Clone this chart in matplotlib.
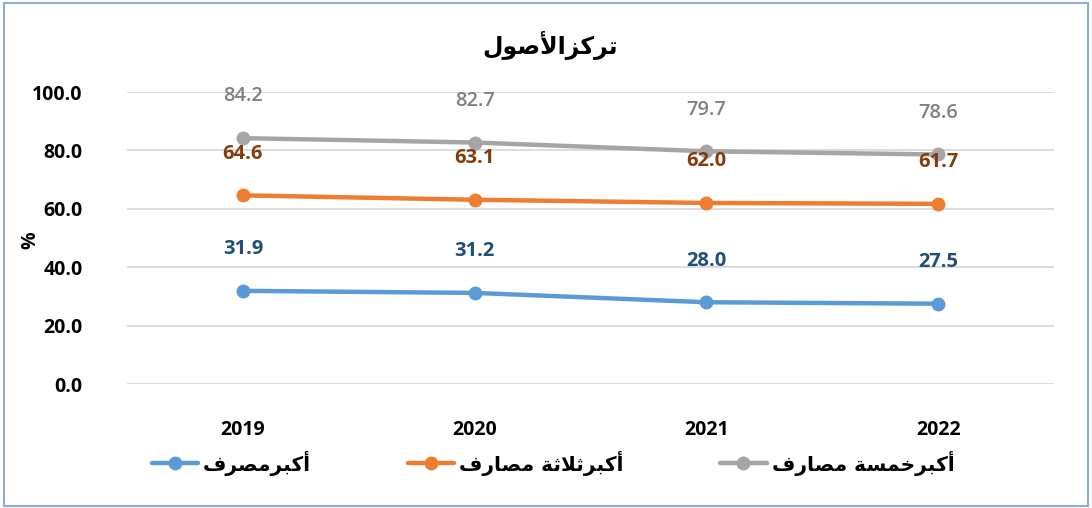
import matplotlib
matplotlib.use("Agg")
import matplotlib.pyplot as plt
from matplotlib.patches import Rectangle

plt.rcParams['font.family'] = ['Open Sans', 'DejaVu Sans']

years = ["2019", "2020", "2021", "2022"]
top1 = [31.9, 31.2, 28.0, 27.5]
top3 = [64.6, 63.1, 62.0, 61.7]
top5 = [84.2, 82.7, 79.7, 78.6]
yticks = [0, 20, 40, 60, 80, 100]

# Arabic text pre-shaped (presentation forms, visual order)
title = "\uFEDD\uFEEE\uFEBB\uFEF7\uFE8D\uFEB0\uFEDB\uFEAE\uFE97"
lab1 = "\uFED1\uFEAE\uFEBC\uFEE3\uFEAE\uFE92\uFEDB\uFE83"
lab3 = "\uFED1\uFEAD\uFE8E\uFEBC\uFEE3 \uFE94\uFE9B\uFEFC\uFE9B\uFEAE\uFE92\uFEDB\uFE83"
lab5 = "\uFED1\uFEAD\uFE8E\uFEBC\uFEE3 \uFE94\uFEB4\uFEE4\uFEA7\uFEAE\uFE92\uFEDB\uFE83"

fig = plt.figure(figsize=(10.92, 5.08), dpi=100)
ax = fig.add_axes([127/1092, 1 - 384/508, (1054-127)/1092, (384-92)/508])

x = list(range(len(years)))
series = [
    (top5, "#A5A5A5", "#808080", "semibold", lab5),
    (top3, "#ED7D31", "#843C0C", "bold", lab3),
    (top1, "#5B9BD5", "#1F4E79", "bold", lab1),
]
handles = {}
for vals, col, tcol, w, lab in series:
    h, = ax.plot(x, vals, color=col, lw=3.2, marker='o', ms=9, label=lab,
                 solid_capstyle='round', zorder=3)
    handles[lab] = h
    for xi, v in zip(x, vals):
        ax.annotate(f"{v:.1f}", (xi, v), xytext=(0, 30), textcoords='offset points',
                    ha='center', va='center', color=tcol, fontsize=14.5, fontweight=w)

ax.set_xlim(-0.5, len(years) - 0.5)
ax.set_ylim(0, 100)
ax.set_yticks(yticks)
ax.set_yticklabels([f"{t:.1f}" for t in yticks], fontsize=14, fontweight='bold')
ax.set_xticks(x)
ax.set_xticklabels(years, fontsize=14, fontweight='bold')
ax.tick_params(axis='both', length=0)
ax.tick_params(axis='y', pad=32)
ax.tick_params(axis='x', pad=26)
ax.grid(axis='y', color='#D9D9D9', lw=1.3)
ax.set_axisbelow(True)
for s in ax.spines.values():
    s.set_visible(False)

fig.text(30/1092, 1 - 240/508, "%", rotation=90, ha='center', va='center',
         fontsize=14, fontweight='bold')
fig.text(550/1092, 1 - 45/508, title, ha='center', va='center',
         fontsize=17, fontweight='bold', family=['DejaVu Sans'])

leg = fig.legend([handles[lab1], handles[lab3], handles[lab5]], [lab1, lab3, lab5],
                 loc='center', bbox_to_anchor=(553/1092, 1 - 463/508), ncol=3,
                 frameon=False, fontsize=14.5, columnspacing=4.8, handlelength=2.3,
                 handletextpad=0.25)
for t in leg.get_texts():
    t.set_family(['DejaVu Sans'])
    t.set_fontweight('bold')

fig.patches.append(Rectangle((4/1092, 2/508), 1084/1092, 503/508, transform=fig.transFigure,
                             fill=False, edgecolor='#8FAADC', lw=1.5))
fig.savefig("out.png", dpi=100)
